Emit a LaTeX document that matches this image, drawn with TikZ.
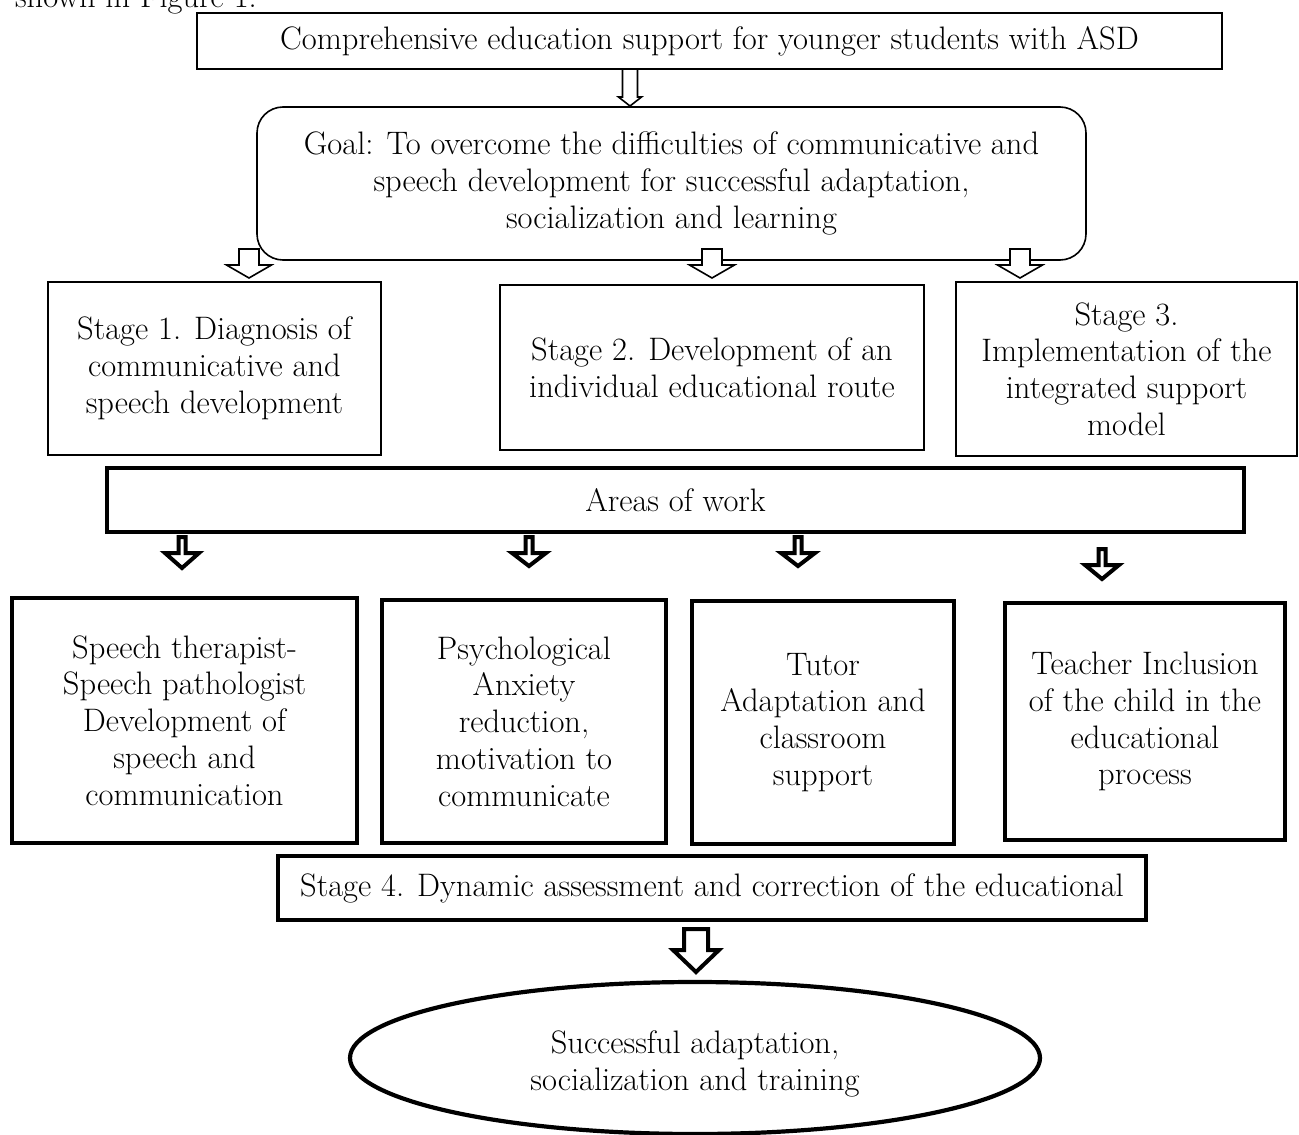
\documentclass[tikz,border=0pt]{standalone}
\usepackage{fontspec}
\usetikzlibrary{shapes.geometric}
\newcommand\blockdown[7]{% style, x, top, base, tip, stem half, head half
  \draw[#1] ({#2-#6},#3) -- ({#2-#6},#4) -- ({#2-#7},#4) -- (#2,#5) -- ({#2+#7},#4) -- ({#2+#6},#4) -- ({#2+#6},#3) -- cycle;}
\begin{document}
\begin{tikzpicture}[x=1pt,y=-1pt,
  every node/.style={font=\fontsize{32.5}{36.8}\selectfont, align=center, inner sep=0pt, outer sep=0pt},
  thinbox/.style={draw, line width=1.6pt, fill=white},
  thickbox/.style={draw, line width=4.2pt, fill=white},
  goalbox/.style={thinbox, rounded corners=26pt},
  endell/.style={ellipse, draw, line width=4.2pt, fill=white},
  thinarrow/.style={draw, line width=1.6pt, fill=white, line join=miter},
  thickarrow/.style={draw, line width=4pt, fill=white, line join=miter}]
\useasboundingbox (0,0) rectangle (1299,1135);

\node[anchor=base west] (prev) at (15,7) {shown in Figure 1.};

\node[thinbox, minimum width=1025pt, minimum height=56pt] (top) at (709.5,41)
  {Comprehensive education support for younger students with ASD};
\node[goalbox, minimum width=829pt, minimum height=153pt] (goal) at (671.5,183.5)
  {Goal: To overcome the difficulties of communicative and\\speech development for successful adaptation,\\socialization and learning};

\node[thinbox, minimum width=333pt, minimum height=173pt] (s1) at (214.5,368.5)
  {Stage 1. Diagnosis of\\communicative and\\speech development};
\node[thinbox, minimum width=424pt, minimum height=165pt] (s2) at (712,367.5)
  {Stage 2. Development of an\\individual educational route};
\node[thinbox, minimum width=341pt, minimum height=174pt] (s3) at (1126.5,369)
  {Stage 3.\\Implementation of the\\integrated support\\model};

\node[thickbox, minimum width=1137pt, minimum height=64pt] (areas) at (675.5,500) {Areas of work};

\node[thickbox, minimum width=345pt, minimum height=245pt] (b1) at (184.5,720.5)
  {Speech therapist-\\Speech pathologist\\Development of\\speech and\\communication};
\node[thickbox, minimum width=284pt, minimum height=243pt] (b2) at (524,721.5)
  {Psychological\\Anxiety\\reduction,\\motivation to\\communicate};
\node[thickbox, minimum width=262pt, minimum height=243pt] (b3) at (823,722.5)
  {Tutor\\Adaptation and\\classroom\\support};
\node[thickbox, minimum width=280pt, minimum height=237pt] (b4) at (1145,721.5)
  {Teacher Inclusion\\of the child in the\\educational\\process};

\node[thickbox, minimum width=868pt, minimum height=64pt] (s4) at (712,888)
  {Stage 4. Dynamic assessment and correction of the educational};

\node[endell, minimum width=690pt, minimum height=152pt] (end) at (695,1058) {};
\node (endtext) at (695,1064) {Successful adaptation,\\socialization and training};

% block arrows
\blockdown{thinarrow}{630}{69}{97}{106}{7.5}{11.5}
\blockdown{thinarrow}{249}{249}{265}{278}{10}{22.5}
\blockdown{thinarrow}{712}{249}{265}{278}{10}{22.5}
\blockdown{thinarrow}{1020}{249}{265}{278}{10}{22.5}

\blockdown{thickarrow}{182}{537}{553}{568}{3.5}{17}
\blockdown{thickarrow}{529}{537}{553}{566}{3.5}{17}
\blockdown{thickarrow}{798}{537}{553}{566}{3.5}{17}
\blockdown{thickarrow}{1102}{549}{565}{579}{3.5}{17}

\blockdown{thickarrow}{696}{929}{950}{972}{12}{23}
\end{tikzpicture}
\end{document}
